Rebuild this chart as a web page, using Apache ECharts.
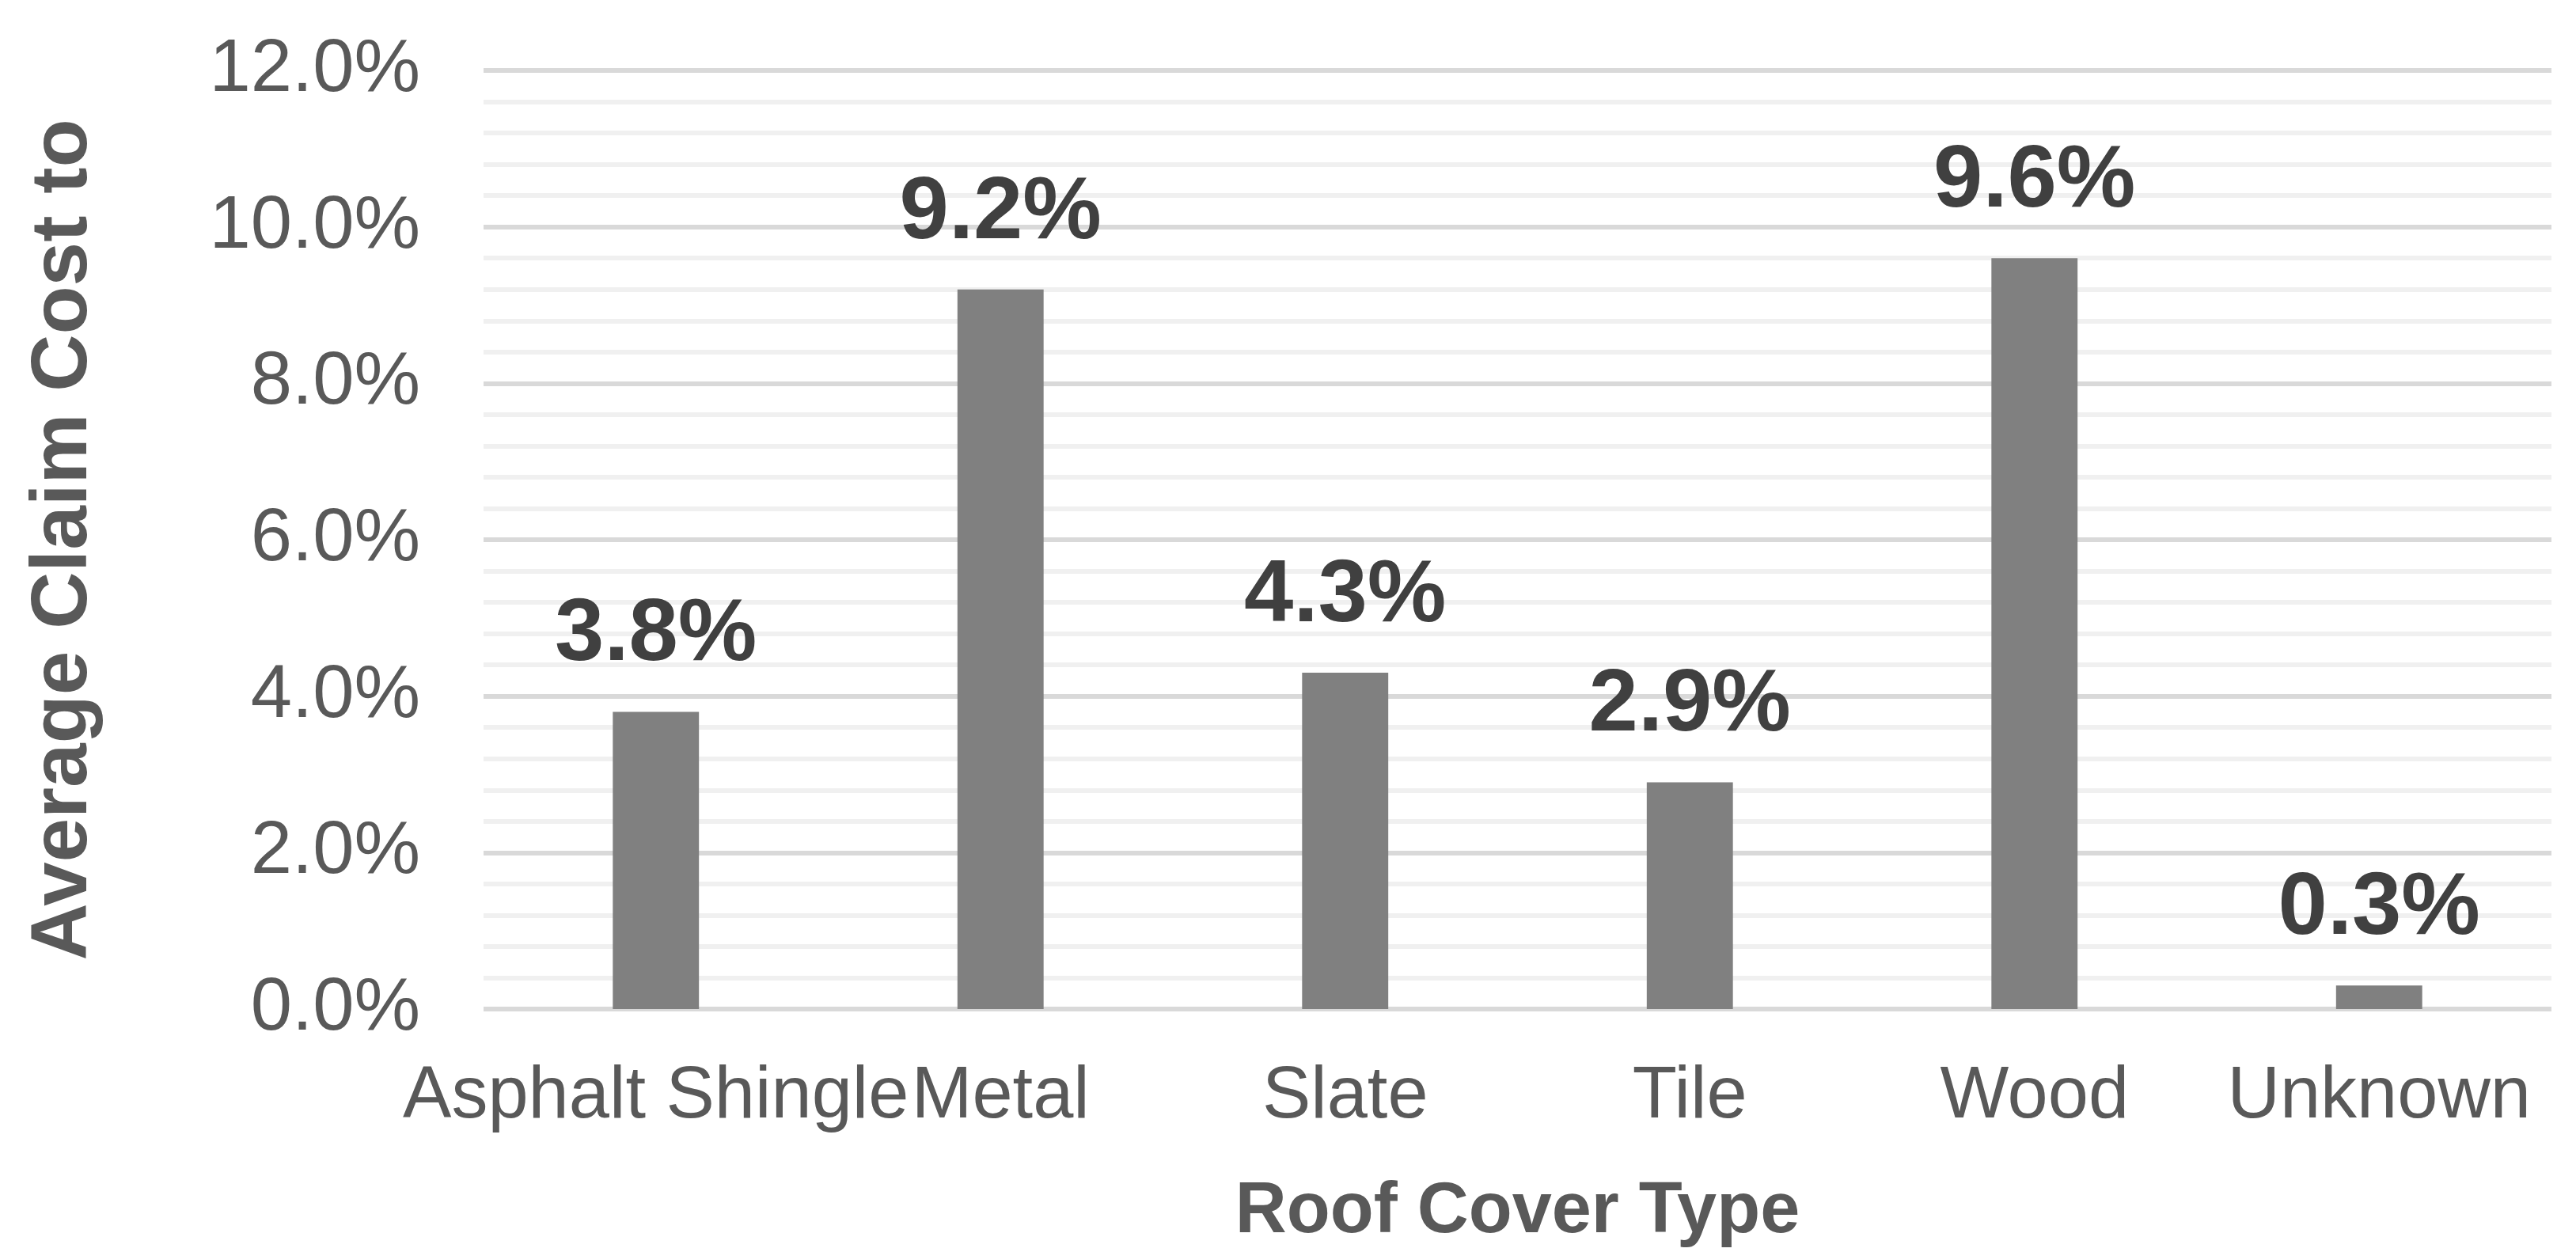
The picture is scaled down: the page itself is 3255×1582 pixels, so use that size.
<!DOCTYPE html>
<html>
<head>
<meta charset="utf-8">
<script src="https://cdn.jsdelivr.net/npm/echarts@6/dist/echarts.min.js"></script>
<style>
html,body{margin:0;padding:0;background:#fff;}
#chart{width:3255px;height:1582px;}
</style>
</head>
<body>
<div id="chart"></div>
<script>
// categories and values (percent)
var categories = ['Asphalt Shingle', 'Metal', 'Slate', 'Tile', 'Wood', 'Unknown'];
var values = [3.8, 9.2, 4.3, 2.9, 9.6, 0.3];

var chart = echarts.init(document.getElementById('chart'));
chart.setOption({
    backgroundColor: '#fff',
    textStyle: {fontFamily: 'Liberation Sans'},
    grid: {left: 611, right: 31, top: 89, bottom: 301},
    xAxis: {
        type: 'category',
        data: categories,
        name: 'Roof Cover Type',
        nameLocation: 'middle',
        nameGap: 212,
        nameTextStyle: {fontSize: 90, fontWeight: 'bold', color: '#595959'},
        axisLine: {show: false},
        axisTick: {show: false},
        axisLabel: {fontSize: 92, color: '#595959', margin: 66, interval: 0}
    },
    yAxis: {
        type: 'value',
        min: 0, max: 12, interval: 2,
        name: 'Average Claim Cost to',
        nameLocation: 'middle',
        nameGap: 480,
        nameTextStyle: {fontSize: 100, fontWeight: 'bold', color: '#595959'},
        axisLabel: {fontSize: 94, color: '#595959', margin: 80,
            formatter: function (v) { return v.toFixed(1) + '%'; }},
        splitLine: {lineStyle: {color: '#d9d9d9', width: 6}},
        minorTick: {show: false, splitNumber: 5},
        minorSplitLine: {show: true, lineStyle: {color: '#f0f0f0', width: 6}}
    },
    series: [{
        type: 'bar',
        data: values,
        barWidth: '25%',
        itemStyle: {color: '#808080'},
        label: {
            show: true, position: 'top', distance: 40,
            fontSize: 112, fontWeight: 'bold', color: '#404040',
            formatter: function (p) { return p.value.toFixed(1) + '%'; }
        }
    }]
});
</script>
</body>
</html>
